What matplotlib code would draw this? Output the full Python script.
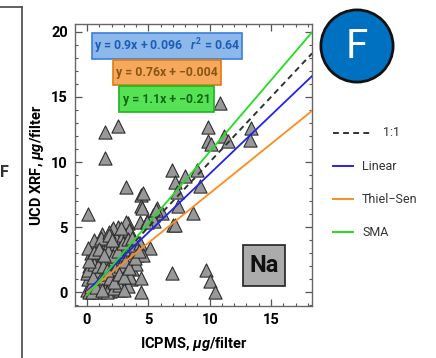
import matplotlib
matplotlib.use("Agg")
import matplotlib.pyplot as plt
import numpy as np
from matplotlib.lines import Line2D
from matplotlib.patches import Circle, Rectangle
from matplotlib.ticker import MultipleLocator

plt.rcParams['font.family'] = ['Roboto', 'DejaVu Sans']
plt.rcParams['mathtext.fontset'] = 'custom'
plt.rcParams['mathtext.it'] = 'Roboto:italic:bold'
plt.rcParams['mathtext.rm'] = 'Roboto:bold'

# ---- data ----
icpms = [
    0.0, 0.2, 0.3, 0.1, 0.5, 0.6, 0.4, 0.2, 0.8, 0.9, 0.7, 0.5, 1.0, 1.1, 1.2, 1.0, 0.9, 0.8,
    1.3, 1.4, 1.5, 1.3, 1.2, 1.1, 1.6, 1.7, 1.8, 1.6, 1.5, 1.4, 1.9, 2.0, 2.1, 2.0, 1.9, 1.8,
    2.0, 2.3, 2.4, 2.5, 2.3, 2.2, 2.4, 2.7, 2.8, 2.9, 2.7, 2.6, 2.8, 2.9, 3.1, 3.2, 3.3, 3.1,
    3.0, 3.2, 3.3, 3.5, 3.6, 3.7, 3.5, 3.8, 3.6, 4.0, 4.1, 4.3, 3.3, 2.5, 1.2, 0.6, 0.3, 0.0,
    0.1, 0.1, 2.1, 3.2, 4.3, 4.9, 5.4, 0.1, 1.1, 3.5, 5.1, 4.6, 0.4, 0.9, 1.6, 2.2, 2.6, 3.0,
    1.0, 1.4, 0.6, 1.8, 2.4, 3.4,
    0.3, 0.7, 1.1, 1.5, 1.9, 2.3, 2.7, 3.1, 0.5, 0.9, 1.3, 1.7, 2.1, 2.5, 2.9, 3.3, 3.7,
    0.2, 0.6, 1.0, 1.4, 1.8, 2.2, 2.6, 3.0, 3.4, 3.9, 4.2, 1.2, 1.6, 2.0, 2.8,
    4.4, 4.4, 4.4, 4.4, 4.6, 4.5, 5.7, 6.1, 5.5, 4.9, 5.6,
    1.5, 2.5, 1.5, 3.2, 6.9, 9.7, 10.0, 10.4,
    10.8, 9.9, 9.9, 10.1, 11.2, 11.5, 13.4, 13.3,
    6.9, 7.2, 8.0, 9.0, 9.2, 7.3, 7.4, 8.6, 7.0, 7.2,
]
ucdxrf = [
    0.2, 0.0, 0.5, 1.0, 0.2, 0.8, 1.5, 2.0, 0.3, 1.2, 1.8, 2.6, 0.0, 0.7, 1.5, 2.2, 2.9, 3.5,
    0.3, 1.0, 1.9, 2.6, 3.2, 3.8, 0.5, 1.3, 2.2, 2.9, 3.5, 4.1, 0.1, 0.9, 1.6, 2.5, 3.1, 3.8,
    4.8, 0.4, 1.2, 2.0, 2.8, 3.5, 4.2, 0.2, 1.0, 1.7, 2.4, 3.0, 3.6, 4.4, 0.6, 1.4, 2.1, 2.8,
    3.3, 3.9, 5.3, 4.6, 1.0, 1.8, 2.5, 3.1, 3.6, 2.2, 2.9, 3.8, 0.5, 5.0, 4.5, 4.0, 3.0, 1.5,
    6.0, 3.4, 4.9, 5.4, 5.4, 5.5, 5.9, 1.7, 4.2, 1.2, 3.4, 2.9, 0.0, 0.5, 0.0, 0.3, 0.6, 0.2,
    1.6, 2.4, 2.2, 4.6, 3.3, 4.8,
    0.6, 0.4, 1.1, 1.4, 1.1, 1.8, 2.0, 2.4, 1.2, 2.0, 2.0, 3.2, 2.8, 3.2, 3.8, 4.1, 4.2,
    2.4, 3.1, 3.3, 2.9, 4.4, 0.8, 1.4, 1.2, 1.9, 2.6, 3.2, 0.2, 1.7, 4.0, 4.9,
    7.5, 6.6, 1.1, 0.0, 7.6, 6.5, 6.5, 6.1, 5.5, 5.4, 6.3,
    12.3, 12.8, 10.3, 8.1, 1.5, 1.7, 0.9, 0.0,
    14.5, 12.7, 11.6, 11.4, 12.0, 11.6, 12.6, 11.7,
    9.4, 8.5, 8.9, 9.4, 8.2, 7.7, 6.6, 6.1, 5.2, 5.2,
]

fits = {
    'Linear': (0.9, 0.096),
    'Thiel-Sen': (0.76, -0.004),
    'SMA': (1.1, -0.21),
}
fit_colors = {'Linear': '#2222ee', 'Thiel-Sen': '#ff8a1e', 'SMA': '#22dd22'}
eq_labels = [
    r'y = 0.9x + 0.096   $r^2$ = 0.64',
    'y = 0.76x + \u22120.004',
    'y = 1.1x + \u22120.21',
]

W, H = 436, 358
fig = plt.figure(figsize=(W / 100, H / 100), dpi=100)
ax = fig.add_axes([75 / W, 1 - 306 / H, (312 - 75) / W, (306 - 24) / H])

xlim = (-0.98, 18.34)
ylim = (-1.05, 20.6)
ax.set_xlim(*xlim)
ax.set_ylim(*ylim)

xs = np.array([0, xlim[1]])
ax.plot(xs, xs, ls=(0, (3, 2.2)), color='#333333', lw=1.4, zorder=4)
for name in ['Linear', 'Thiel-Sen', 'SMA']:
    m, b = fits[name]
    ax.plot(xs, m * xs + b, color=fit_colors[name], lw=1.3, zorder=4)

ax.scatter(icpms, ucdxrf, marker='^', s=90, facecolor='#989898', edgecolor='#2e2e2e',
           linewidths=0.8, zorder=3)

# ticks
ax.xaxis.set_major_locator(MultipleLocator(5))
ax.xaxis.set_minor_locator(MultipleLocator(1))
ax.yaxis.set_major_locator(MultipleLocator(5))
ax.yaxis.set_minor_locator(MultipleLocator(1))
ax.tick_params(which='both', direction='in', top=True, right=True, color='#555555')
ax.tick_params(which='major', length=5, width=0.9, labelsize=10.5, pad=5)
ax.tick_params(which='minor', length=2.5, width=0.8)
for lab in ax.get_xticklabels() + ax.get_yticklabels():
    lab.set_fontweight('bold')
for sp in ax.spines.values():
    sp.set_color('#666666')
    sp.set_linewidth(1.0)

ax.set_xlabel(r'ICPMS, $\mu g$/filter', fontsize=10.5, fontweight='bold', labelpad=6)
ax.set_ylabel(r'UCD XRF, $\mu g$/filter', fontsize=10.5, fontweight='bold', labelpad=4)

# equation boxes
box_styles = [
    ('#8db8ec', '#3b7fd8', '#1e5db5', 92, 33, 242, 59),
    ('#f6a85c', '#e07b12', '#8a5512', 113, 60, 221, 85),
    ('#55e355', '#1fb31f', '#126512', 119, 86, 214, 112),
]
for lab, (fc, ec, tc, x0, y0, x1, y1) in zip(eq_labels, box_styles):
    fig.add_artist(Rectangle((x0 / W, 1 - y1 / H), (x1 - x0) / W, (y1 - y0) / H,
                             transform=fig.transFigure, facecolor=fc, edgecolor=ec, lw=1.2, zorder=5))
    fig.text((x0 + x1) / 2 / W, 1 - (y0 + y1) / 2 / H, lab, ha='center', va='center',
             fontsize=8.8, fontweight='bold', color=tc, zorder=6)

# Na box
fig.add_artist(Rectangle((243 / W, 1 - 286 / H), 42 / W, 41 / H, transform=fig.transFigure,
                         facecolor='#ababab', edgecolor='#222222', lw=1.2, zorder=5))
fig.text(264 / W, 1 - 266 / H, 'Na', ha='center', va='center', fontsize=17,
         fontweight='bold', color='#111111', zorder=6)

# panel badge
cax = fig.add_axes([(357 - 38) / W, 1 - (46 + 38) / H, 76 / W, 76 / H])
cax.set_xlim(-1, 1); cax.set_ylim(-1, 1); cax.axis('off')
cax.add_patch(Circle((0, 0), 0.95, facecolor='#0070c0', edgecolor='#111111', lw=2))
cax.text(0, -0.02, 'F', ha='center', va='center', fontsize=29, color='white')

# legend (manual)
leg = [('1:1', '#333333', (0, (3, 2.2)), 333, 372, 383, 133),
       ('Linear', fit_colors['Linear'], '-', 333, 353, 362, 166),
       ('Thiel\u2212Sen', fit_colors['Thiel-Sen'], '-', 333, 353, 362, 199),
       ('SMA', fit_colors['SMA'], '-', 333, 353, 362, 232)]
for text, c, ls, hx0, hx1, tx, ty in leg:
    fig.add_artist(Line2D([hx0 / W, hx1 / W], [1 - ty / H, 1 - ty / H], color=c, ls=ls,
                          lw=1.4, transform=fig.transFigure))
    fig.text(tx / W, 1 - ty / H, text, ha='left', va='center', fontsize=9, color='#333333')

# neighbouring panel remnants
fig.add_artist(Line2D([22 / W, 22 / W], [0, 1 - 7 / H], color='#555555', lw=1.3,
                      transform=fig.transFigure))
fig.add_artist(Line2D([0, 22 / W], [1 - 7 / H, 1 - 7 / H], color='#555555', lw=1.3,
                      transform=fig.transFigure))
fig.text(9 / W, 1 - 172 / H, 'F', ha='right', va='center', fontsize=11.5,
         fontweight='bold', color='#333333')

fig.savefig('out.png', dpi=100)
